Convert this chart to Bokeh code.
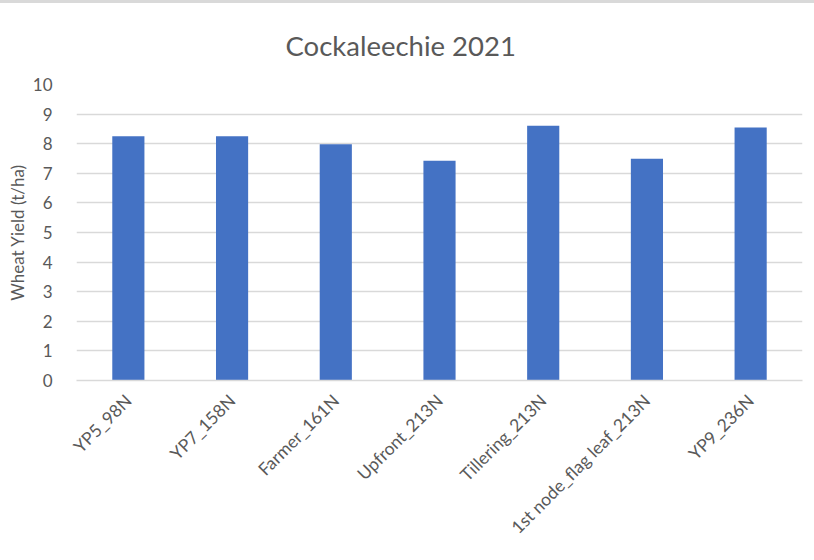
from bokeh.plotting import figure
from bokeh.models import ColumnDataSource, FixedTicker
from bokeh.embed import file_html
from bokeh.resources import INLINE
from math import pi

categories = ["YP5_98N", "YP7_158N", "Farmer_161N", "Upfront_213N",
              "Tillering_213N", "1st node_flag leaf_213N", "YP9_236N"]
yields = [8.25, 8.25, 7.98, 7.42, 8.61, 7.49, 8.55]
y_ticks = [0, 1, 2, 3, 4, 5, 6, 7, 8, 9, 10]
title_text = "Cockaleechie 2021"
y_label = "Wheat Yield (t/ha)"

FONT = "Lato"
GREY = "#595959"

src = ColumnDataSource(dict(cat=categories, val=yields))

p = figure(x_range=categories, y_range=(0, 10), width=814, height=557,
           output_backend="svg", toolbar_location=None,
           min_border_left=76, min_border_right=12,
           min_border_top=81, min_border_bottom=180)
p.styles = {"border-top": "3px solid #d9d9d9"}

p.vbar(x="cat", top="val", width=0.31, source=src,
       fill_color="#4472C4", line_color=None)

p.title.text = title_text
p.title.align = "left"
p.title.offset = 209
p.title.standoff = 45
p.title.vertical_align = "bottom"
p.title.text_font = FONT
p.title.text_font_size = "27.5px"
p.title.text_font_style = "normal"
p.title.text_color = GREY

p.outline_line_color = None
p.xgrid.grid_line_color = None
p.ygrid.grid_line_color = "#D9D9D9"
p.ygrid.grid_line_width = 1.5
p.yaxis.ticker = FixedTicker(ticks=y_ticks)

p.yaxis.axis_line_color = None
p.yaxis.major_tick_line_color = None
p.yaxis.minor_tick_line_color = None
p.yaxis.major_label_text_font = FONT
p.yaxis.major_label_text_font_size = "17px"
p.yaxis.major_label_text_color = GREY
p.yaxis.major_label_standoff = 18
p.yaxis.axis_label = y_label
p.yaxis.axis_label_text_font = FONT
p.yaxis.axis_label_text_font_size = "17px"
p.yaxis.axis_label_text_font_style = "normal"
p.yaxis.axis_label_text_color = GREY
p.yaxis.axis_label_standoff = 2

p.xaxis.axis_line_color = "#D9D9D9"
p.xaxis.axis_line_width = 1.5
p.xaxis.major_tick_line_color = None
p.xaxis.minor_tick_line_color = None
p.xaxis.major_label_orientation = pi / 4
p.xaxis.major_label_text_font = FONT
p.xaxis.major_label_text_font_size = "17.5px"
p.xaxis.major_label_text_color = GREY
p.xaxis.major_label_standoff = 11

open("out.html", "w").write(file_html(p, INLINE))
